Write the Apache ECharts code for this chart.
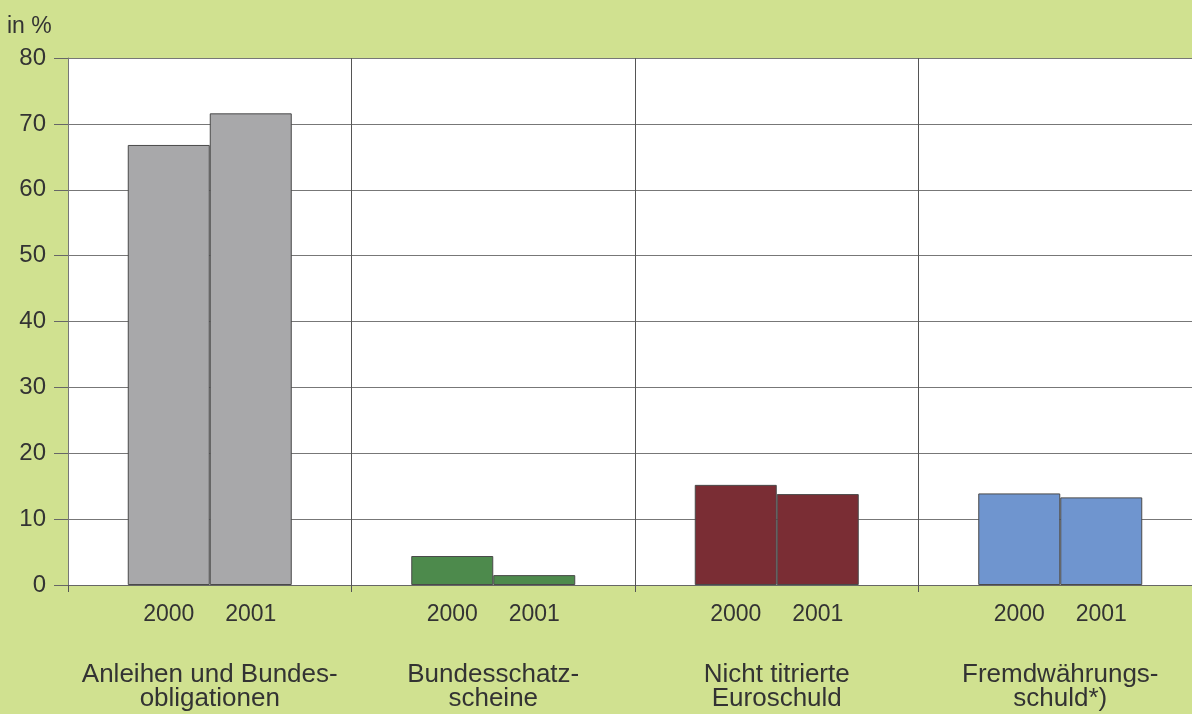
<!DOCTYPE html>
<html>
<head>
<meta charset="utf-8">
<script src="https://cdn.jsdelivr.net/npm/echarts@6/dist/echarts.min.js"></script>
<style>
html,body{margin:0;padding:0;background:#d0e190;overflow:hidden;width:1192px;height:714px;}
#c{width:1202px;height:714px;}
</style>
</head>
<body>
<div id="c"></div>
<script>
const categories = ['Anleihen und Bundes-\nobligationen', 'Bundesschatz-\nscheine', 'Nicht titrierte\nEuroschuld', 'Fremdwährungs-\nschuld*)'];
const years = ['2000', '2001'];
const values2000 = [66.8, 4.4, 15.2, 13.9];
const values2001 = [71.6, 1.5, 13.8, 13.3];
const categoryColors = ['#a8a8aa', '#4d8a4c', '#7a2d34', '#6f95cf'];
const yTicks = [0, 10, 20, 30, 40, 50, 60, 70, 80];

const font = 'Liberation Sans, Arial, sans-serif';
function mk(vals){
  return vals.map((v,i)=>({value:v,itemStyle:{color:categoryColors[i]}}));
}
const chart = echarts.init(document.getElementById('c'));
chart.setOption({
  backgroundColor:'#d0e190',
  animation:false,
  title:{text:'in %', left:2, top:10, textStyle:{fontFamily:font,fontSize:23,fontWeight:'normal',color:'#333'}},
  grid:{left:68, right:0, top:58, bottom:129, show:true, backgroundColor:'#ffffff', borderWidth:0},
  xAxis:{
    type:'category', data:categories,
    axisLine:{show:true, lineStyle:{color:'#666', width:1}},
    axisTick:{show:true, interval:0, length:7, lineStyle:{color:'#555'}},
    splitLine:{show:true, interval:0, lineStyle:{color:'#555', width:1}},
    axisLabel:{interval:0, margin:78, fontFamily:font, fontSize:26, lineHeight:24, color:'#333'}
  },
  yAxis:{
    type:'value', min:yTicks[0], max:yTicks[yTicks.length-1], interval:10,
    axisLine:{show:true, lineStyle:{color:'#777'}},
    axisTick:{show:true, length:14, lineStyle:{color:'#666'}},
    splitLine:{show:true, lineStyle:{color:'#777', width:1.2}},
    axisLabel:{margin:22, fontFamily:font, fontSize:24, color:'#333'}
  },
  series:[
    {name:years[0], type:'bar', data:mk(values2000), barWidth:82, barGap:'0%',
     itemStyle:{borderColor:'#4a4a4a', borderWidth:1},
     label:{show:true, position:'bottom', distance:18, formatter:'{a}', fontFamily:font, fontSize:23, color:'#333'}},
    {name:years[1], type:'bar', data:mk(values2001), barWidth:82, barGap:'0%',
     itemStyle:{borderColor:'#4a4a4a', borderWidth:1},
     label:{show:true, position:'bottom', distance:18, formatter:'{a}', fontFamily:font, fontSize:23, color:'#333'}}
  ]
});
</script>
</body>
</html>
